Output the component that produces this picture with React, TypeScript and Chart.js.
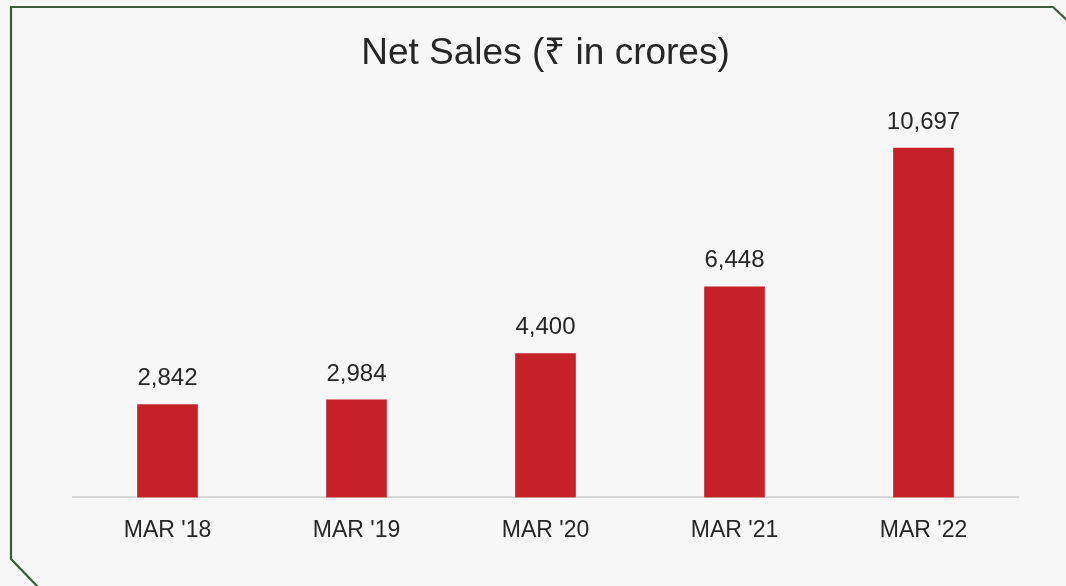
import React, { useEffect, useRef } from "react";
import { Chart, registerables } from "chart.js";

Chart.register(...registerables);

const categories = ["MAR '18", "MAR '19", "MAR '20", "MAR '21", "MAR '22"];
const netSales = [2842, 2984, 4400, 6448, 10697];
const titleText = "Net Sales (₹ in crores)";

const FONT = "'Liberation Sans', Arial, sans-serif";

const framePlugin = {
  id: "frame",
  beforeDraw(chart: any) {
    const { ctx, width, height } = chart;
    ctx.save();
    ctx.fillStyle = "#f7f7f7";
    ctx.fillRect(0, 0, width, height);
    ctx.strokeStyle = "#3d5c3d";
    ctx.lineWidth = 2.2;
    ctx.beginPath();
    ctx.moveTo(39, 588);
    ctx.lineTo(11, 559);
    ctx.lineTo(11, 7);
    ctx.lineTo(1053, 7);
    ctx.lineTo(1068, 21);
    ctx.stroke();
    ctx.restore();
  },
};

const labelPlugin = {
  id: "valueLabels",
  afterDatasetsDraw(chart: any) {
    const { ctx } = chart;
    const meta = chart.getDatasetMeta(0);
    const data = chart.data.datasets[0].data as number[];
    ctx.save();
    ctx.fillStyle = "#262626";
    ctx.font = `24px ${FONT}`;
    ctx.textAlign = "center";
    ctx.textBaseline = "middle";
    meta.data.forEach((el: any, i: number) => {
      ctx.fillText(data[i].toLocaleString("en-US"), el.x, el.y - 26);
    });
    ctx.restore();
  },
};

export default function App() {
  const ref = useRef<HTMLCanvasElement>(null);
  useEffect(() => {
    if (!ref.current) return;
    const chart = new Chart(ref.current, {
      type: "bar",
      data: {
        labels: categories,
        datasets: [
          {
            data: netSales,
            backgroundColor: "#c62029",
            barThickness: 60,
          },
        ],
      },
      options: {
        animation: false,
        responsive: false,
        maintainAspectRatio: false,
        layout: { padding: { left: 73, right: 48, top: 0, bottom: 23 } },
        plugins: {
          legend: { display: false },
          tooltip: { enabled: false },
          title: {
            display: true,
            text: titleText,
            color: "#262626",
            font: { family: FONT, size: 37, weight: "normal" },
            padding: { top: 32, bottom: 29 },
          },
        },
        scales: {
          x: {
            grid: { display: false, drawTicks: false },
            border: { display: true, color: "#d9d9d9", width: 2 },
            ticks: {
              color: "#262626",
              font: { family: FONT, size: 23 },
              padding: 19,
            },
          },
          y: { display: false, min: 0, max: 12000 },
        },
      },
      plugins: [framePlugin, labelPlugin],
    });
    return () => chart.destroy();
  }, []);
  return (
    <div style={{ position: "fixed", left: 0, top: 0, width: 1066, height: 586 }}>
      <canvas ref={ref} width={1066} height={586} style={{ width: 1066, height: 586 }} />
    </div>
  );
}
